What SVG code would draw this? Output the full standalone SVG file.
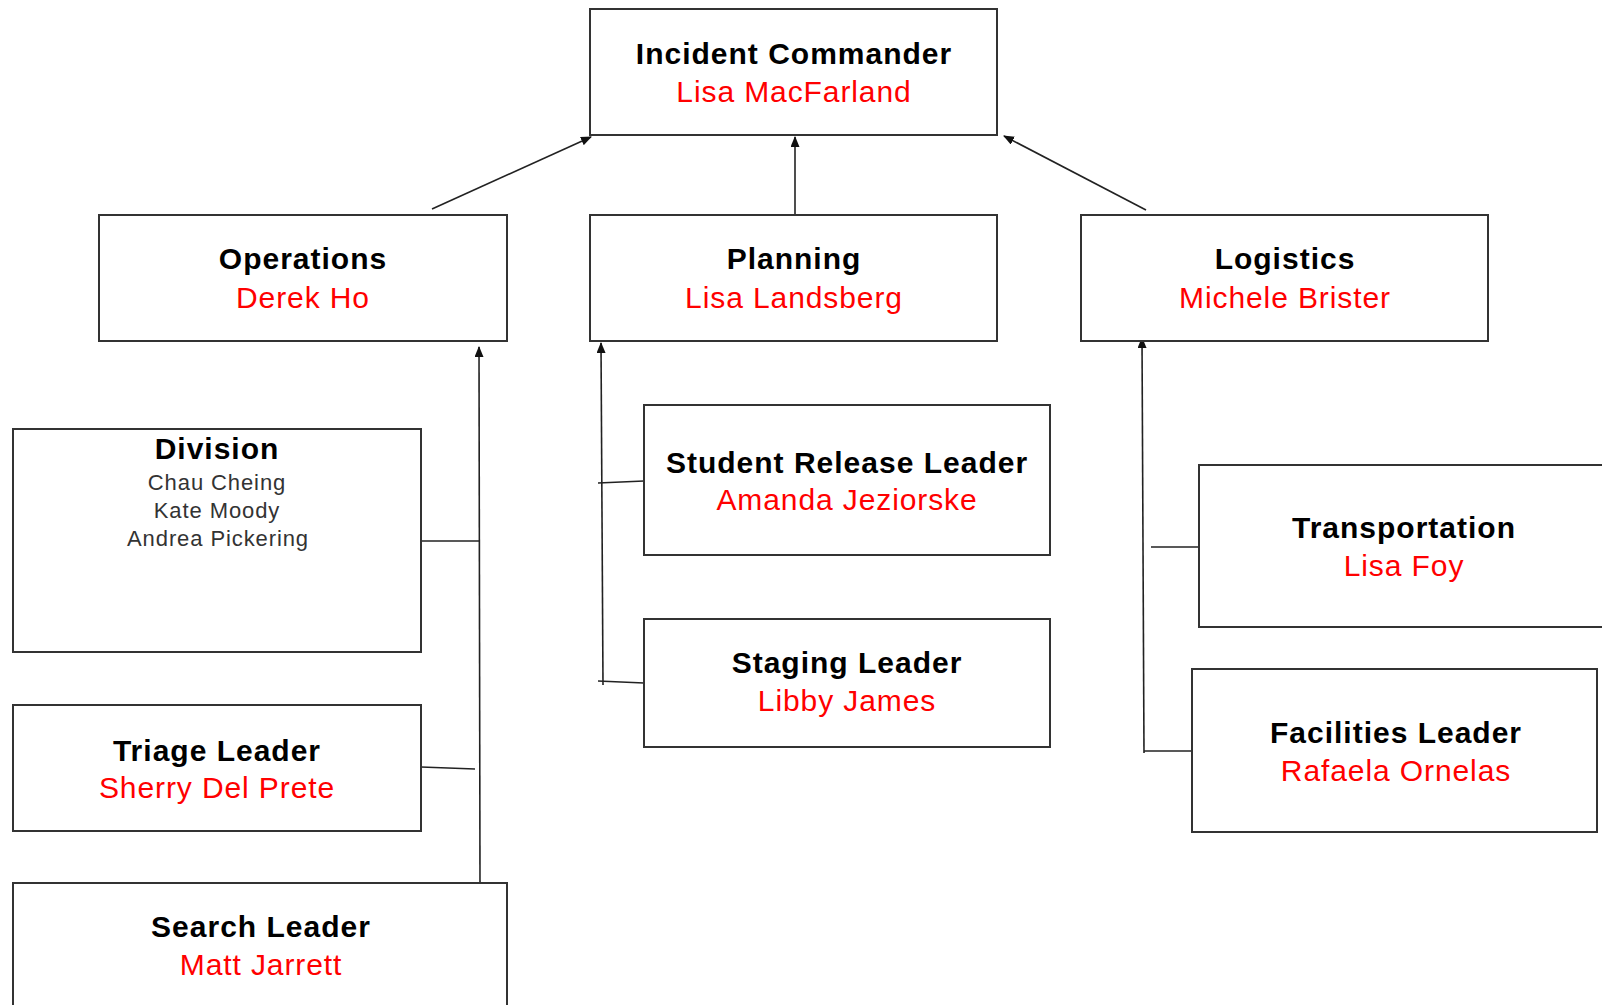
<svg xmlns="http://www.w3.org/2000/svg" width="1602" height="1005" viewBox="0 0 1602 1005">
<style>
.box{fill:#fff;stroke:#333;stroke-width:2}
.t{font-family:"Liberation Sans",Arial,sans-serif;font-size:30px;font-weight:bold;fill:#000;text-anchor:middle;letter-spacing:1px}
.n{font-family:"Liberation Sans",Arial,sans-serif;font-size:30px;fill:#ff0000;text-anchor:middle;letter-spacing:0.9px}
.s{font-family:"Liberation Sans",Arial,sans-serif;font-size:22px;fill:#333;text-anchor:middle;letter-spacing:0.9px}
.c{stroke:#222;stroke-width:1.6;fill:none}
.a{marker-end:url(#arr)}
</style>
<defs>
<marker id="arr" markerUnits="userSpaceOnUse" markerWidth="11" markerHeight="9" refX="10" refY="4.5" orient="auto">
<path d="M0,0 L11,4.5 L0,9 z" fill="#111"/>
</marker>
</defs>
<rect width="1602" height="1005" fill="#fff"/>
<g id="connectors">
<line class="c a" x1="432" y1="209" x2="591" y2="137"/>
<line class="c a" x1="795" y1="215" x2="795" y2="137"/>
<line class="c a" x1="1146" y1="210" x2="1004" y2="136"/>
<line class="c a" x1="480" y1="884" x2="479" y2="347"/>
<line class="c" x1="421" y1="541" x2="480" y2="541"/>
<line class="c" x1="421" y1="767" x2="475" y2="769"/>
<line class="c a" x1="603" y1="685" x2="601" y2="343"/>
<line class="c" x1="598" y1="483" x2="644" y2="481"/>
<line class="c" x1="598" y1="681" x2="644" y2="683"/>
<line class="c a" x1="1144" y1="753" x2="1142" y2="338"/>
<line class="c" x1="1151" y1="547" x2="1199" y2="547"/>
<line class="c" x1="1144" y1="751" x2="1192" y2="751"/>
</g>
<g id="incident-commander">
<rect class="box" x="590" y="9" width="407" height="126"/>
<text class="t" x="794" y="64">Incident Commander</text>
<text class="n" x="794" y="102">Lisa MacFarland</text>
</g>
<g id="operations">
<rect class="box" x="99" y="215" width="408" height="126"/>
<text class="t" x="303" y="269">Operations</text>
<text class="n" x="303" y="308">Derek Ho</text>
</g>
<g id="planning">
<rect class="box" x="590" y="215" width="407" height="126"/>
<text class="t" x="794" y="269">Planning</text>
<text class="n" x="794" y="308">Lisa Landsberg</text>
</g>
<g id="logistics">
<rect class="box" x="1081" y="215" width="407" height="126"/>
<text class="t" x="1285" y="269">Logistics</text>
<text class="n" x="1285" y="308">Michele Brister</text>
</g>
<g id="division">
<rect class="box" x="13" y="429" width="408" height="223"/>
<text class="t" x="217" y="459">Division</text>
<text class="s" x="217" y="490">Chau Cheing</text>
<text class="s" x="217" y="518">Kate Moody</text>
<text class="s" x="218" y="546">Andrea Pickering</text>
</g>
<g id="triage-leader">
<rect class="box" x="13" y="705" width="408" height="126"/>
<text class="t" x="217" y="761">Triage Leader</text>
<text class="n" x="217" y="798">Sherry Del Prete</text>
</g>
<g id="search-leader">
<rect class="box" x="13" y="883" width="494" height="140"/>
<text class="t" x="261" y="937">Search Leader</text>
<text class="n" x="261" y="975">Matt Jarrett</text>
</g>
<g id="student-release-leader">
<rect class="box" x="644" y="405" width="406" height="150"/>
<text class="t" x="847" y="473">Student Release Leader</text>
<text class="n" x="847" y="510">Amanda Jeziorske</text>
</g>
<g id="staging-leader">
<rect class="box" x="644" y="619" width="406" height="128"/>
<text class="t" x="847" y="673">Staging Leader</text>
<text class="n" x="847" y="711">Libby James</text>
</g>
<g id="transportation">
<rect class="box" x="1199" y="465" width="410" height="162"/>
<text class="t" x="1404" y="538">Transportation</text>
<text class="n" x="1404" y="576">Lisa Foy</text>
</g>
<g id="facilities-leader">
<rect class="box" x="1192" y="669" width="405" height="163"/>
<text class="t" x="1396" y="743">Facilities Leader</text>
<text class="n" x="1396" y="781">Rafaela Ornelas</text>
</g>
</svg>
